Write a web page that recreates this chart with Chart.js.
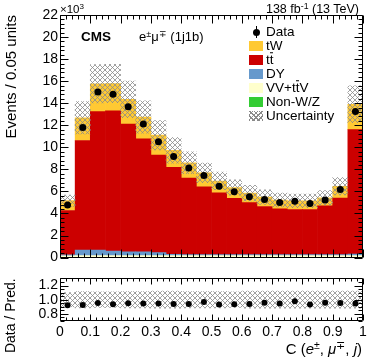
<!DOCTYPE html>
<html>
<head>
<meta charset="utf-8">
<script src="https://cdn.jsdelivr.net/npm/chart.js@4.4.0/dist/chart.umd.min.js"></script>
<style>
  html, body { margin: 0; padding: 0; background: #fff; }
  #wrap { position: relative; width: 374px; height: 359px; overflow: hidden; font-family: "Liberation Sans", Arial, sans-serif; color: #000; }
  canvas { position: absolute; left: 0; }
  .lbl { position: absolute; line-height: 1; white-space: nowrap; transform: translateY(-50%); }
  .sw { position: absolute; left: 249px; width: 14px; height: 10px; }
  .leg { position: absolute; left: 266px; line-height: 1; white-space: nowrap; transform: translateY(-50%); font-size: 13.5px; }
  sup { font-size: 70%; vertical-align: 0; position: relative; top: -0.45em; }
  .ob { position: relative; }
  .ob::before { content: ''; position: absolute; left: 0.5px; right: 0.5px; top: 0.06em; border-top: 1px solid #000; }
  .hatch { background-color: #fff; background-image: repeating-linear-gradient(45deg, #8a8a8a 0 0.8px, transparent 0.8px 3.5px), repeating-linear-gradient(-45deg, #8a8a8a 0 0.8px, transparent 0.8px 3.5px); }
</style>
</head>
<body>
<div id="wrap">
  <canvas id="mainChart" width="374" height="268" style="top:0"></canvas>
  <canvas id="ratioChart" width="374" height="91" style="top:268px"></canvas>

  <div class="lbl" style="left:60px; top:10px; font-size:11.5px">×10<sup>3</sup></div>
  <div class="lbl" style="right:15px; top:8.5px; font-size:12.5px">138 fb<sup>-1</sup> (13 TeV)</div>
  <div class="lbl" style="left:81px; top:37px; font-size:13.5px; font-weight:bold">CMS</div>
  <div class="lbl" style="left:139px; top:37px; font-size:13px">e<sup>±</sup>μ<sup>∓</sup> (1j1b)</div>

  <div style="position:absolute; left:256px; top:26px; width:1px; height:12px; background:#000"></div>
  <div style="position:absolute; left:253px; top:28.5px; width:7px; height:7px; border-radius:50%; background:#000"></div>
  <div class="leg" style="top:31.5px">Data</div>
  <div class="sw" style="top:40.5px; background:#ffc933"></div>
  <div class="leg" style="top:45.5px">tW</div>
  <div class="sw" style="top:54.5px; background:#cc0000"></div>
  <div class="leg" style="top:59.5px">t<span class="ob">t</span></div>
  <div class="sw" style="top:68.5px; background:#6699cc"></div>
  <div class="leg" style="top:73.5px">DY</div>
  <div class="sw" style="top:82.5px; background:#ffffcc"></div>
  <div class="leg" style="top:87.5px">VV+t<span class="ob">t</span>V</div>
  <div class="sw" style="top:96.5px; background:#33cc33"></div>
  <div class="leg" style="top:101.5px">Non-W/Z</div>
  <div class="sw hatch" style="top:110.5px"></div>
  <div class="leg" style="top:115.5px">Uncertainty</div>

  <div class="lbl" style="right:12px; top:348px; font-size:15px">C (<i>e</i><sup>±</sup>, <i>μ</i><sup>∓</sup>, <i>j</i>)</div>
</div>
<script>
// bin centres of C (e, mu, j), width 0.05
const binCenters = [0.025, 0.075, 0.125, 0.175, 0.225, 0.275, 0.325, 0.375, 0.425, 0.475,
                    0.525, 0.575, 0.625, 0.675, 0.725, 0.775, 0.825, 0.875, 0.925, 0.975];
// stacked predictions, in units of 10^3 events
const nonWZ = [0.03, 0.03, 0.03, 0.03, 0.03, 0.03, 0.03, 0.03, 0.03, 0.03,
               0.03, 0.03, 0.03, 0.03, 0.03, 0.03, 0.03, 0.03, 0.03, 0.03];
const vvttv = [0.13, 0.15, 0.15, 0.15, 0.15, 0.15, 0.15, 0.15, 0.15, 0.15,
               0.15, 0.15, 0.15, 0.15, 0.15, 0.15, 0.15, 0.15, 0.15, 0.15];
const dy = [0.08, 0.51, 0.51, 0.42, 0.35, 0.35, 0.27, 0.12, 0.09, 0.09,
            0.09, 0.09, 0.09, 0.09, 0.09, 0.09, 0.09, 0.09, 0.09, 0.15];
const ttbar = [4.03, 9.93, 12.55, 12.70, 11.58, 10.24, 8.84, 7.89, 6.94, 6.14,
               5.61, 5.10, 4.72, 4.36, 4.15, 4.09, 4.09, 4.43, 5.13, 11.27];
const tw = [0.89, 2.06, 2.52, 2.49, 2.24, 1.98, 1.81, 1.53, 1.39, 1.27,
            1.07, 0.98, 0.86, 0.85, 0.80, 0.79, 0.79, 0.72, 1.07, 2.30];
const dataVals = [4.78, 11.80, 15.02, 14.81, 13.69, 12.11, 10.51, 9.17, 8.13, 7.45,
                  6.47, 5.97, 5.52, 5.28, 5.00, 5.10, 4.90, 5.23, 6.17, 13.24];
// relative total uncertainty on the prediction
const relUnc = [0.10, 0.115, 0.11, 0.11, 0.115, 0.115, 0.12, 0.12, 0.115, 0.115,
                0.115, 0.11, 0.12, 0.12, 0.12, 0.12, 0.12, 0.12, 0.12, 0.12];
const ratioVals = [0.923, 0.927, 0.953, 0.936, 0.949, 0.945, 0.945, 0.940, 0.940, 0.966,
                   0.932, 0.936, 0.940, 0.957, 0.945, 0.979, 0.932, 0.957, 0.953, 0.945];
const ratioTicks = [0.8, 1.0, 1.2];

const FONT = "'Liberation Sans', Arial, sans-serif";
Chart.defaults.font.family = FONT;
Chart.defaults.color = '#000';

function makeHatch() {
  const c = document.createElement('canvas');
  c.width = 5; c.height = 5;
  const g = c.getContext('2d');
  g.strokeStyle = '#8a8a8a';
  g.lineWidth = 0.8;
  g.beginPath();
  g.moveTo(0, 0); g.lineTo(5, 5);
  g.moveTo(5, 0); g.lineTo(0, 5);
  g.stroke();
  return g.createPattern(c, 'repeat');
}
const hatch = makeHatch();

function eachTick(min, max, minor, major, fn) {
  const n = Math.round((max - min) / minor);
  for (let i = 0; i <= n; i++) {
    const v = min + i * minor;
    const q = v / major;
    fn(v, Math.abs(q - Math.round(q)) < 1e-6);
  }
}

// ROOT style frame: ticks pointing inwards on all four sides
const rootFrame = {
  id: 'rootFrame',
  afterDraw(chart, args, o) {
    const { ctx, chartArea: a } = chart;
    const xs = chart.scales.x, ys = chart.scales.y;
    const L = Math.round(a.left) + 0.5, R = Math.round(a.right) - 0.5;
    const T = Math.round(a.top) + 0.5, B = Math.round(a.bottom) - 0.5;
    ctx.save();
    ctx.strokeStyle = '#000';
    ctx.lineWidth = 1;
    ctx.beginPath();
    eachTick(xs.min, xs.max, o.xMinor, o.xMajor, (v, major) => {
      const px = Math.round(xs.getPixelForValue(v)) + 0.5;
      const len = major ? o.xLen[0] : o.xLen[1];
      ctx.moveTo(px, B); ctx.lineTo(px, B - len);
      ctx.moveTo(px, T); ctx.lineTo(px, T + len);
    });
    eachTick(ys.min, ys.max, o.yMinor, o.yMajor, (v, major) => {
      const py = Math.round(ys.getPixelForValue(v)) + 0.5;
      const len = major ? o.yLen[0] : o.yLen[1];
      ctx.moveTo(L, py); ctx.lineTo(L + len, py);
      ctx.moveTo(R, py); ctx.lineTo(R - len, py);
    });
    ctx.rect(L, T, R - L, B - T);
    ctx.stroke();
    ctx.restore();
  }
};

function histBars(label, values, color) {
  return {
    type: 'bar',
    label: label,
    data: binCenters.map((x, i) => ({ x: x, y: values[i] })),
    backgroundColor: color,
    borderWidth: 0,
    grouped: false,
    barPercentage: 1,
    categoryPercentage: 1,
    stack: 'mc',
    order: 2
  };
}

const totals = binCenters.map((_, i) => nonWZ[i] + vvttv[i] + dy[i] + ttbar[i] + tw[i]);

new Chart(document.getElementById('mainChart'), {
  type: 'bar',
  data: {
    datasets: [
      histBars('Non-W/Z', nonWZ, '#33cc33'),
      histBars('VV+ttV', vvttv, '#ffffcc'),
      histBars('DY', dy, '#6699cc'),
      histBars('tt', ttbar, '#cc0000'),
      histBars('tW', tw, '#ffc933'),
      {
        type: 'bar',
        label: 'Uncertainty',
        data: binCenters.map((x, i) => ({ x: x, y: [totals[i] * (1 - relUnc[i]), totals[i] * (1 + relUnc[i])] })),
        backgroundColor: hatch,
        borderWidth: 0,
        grouped: false,
        barPercentage: 1,
        categoryPercentage: 1,
        stack: 'unc',
        order: 1
      },
      {
        type: 'line',
        label: 'Data',
        data: binCenters.map((x, i) => ({ x: x, y: dataVals[i] })),
        showLine: false,
        pointRadius: 3.5,
        pointBackgroundColor: '#000',
        pointBorderWidth: 0,
        stack: 'data',
        order: 0
      }
    ]
  },
  options: {
    responsive: false,
    animation: false,
    layout: { padding: { top: 15, right: 11, bottom: 6, left: 0 } },
    plugins: {
      legend: { display: false },
      tooltip: { enabled: false },
      rootFrame: { xMajor: 0.1, xMinor: 0.02, yMajor: 2, yMinor: 0.4, xLen: [8, 4], yLen: [8, 4] }
    },
    scales: {
      x: { type: 'linear', min: 0, max: 1, offset: false, display: false, ticks: { stepSize: 0.1 } },
      y: {
        type: 'linear',
        min: 0,
        max: 22,
        stacked: true,
        afterFit(scale) { scale.width = 60; },
        grid: { display: false, drawTicks: false },
        border: { display: false },
        ticks: { stepSize: 2, padding: 2, color: '#000', font: { size: 14 } },
        title: { display: true, text: 'Events / 0.05 units', align: 'end', color: '#000', font: { size: 15 }, padding: { top: 3, bottom: 0 } }
      }
    }
  },
  plugins: [rootFrame]
});

new Chart(document.getElementById('ratioChart'), {
  type: 'bar',
  data: {
    datasets: [
      {
        type: 'bar',
        label: 'Uncertainty',
        data: binCenters.map((x, i) => ({ x: x, y: [1 - relUnc[i], 1 + relUnc[i]] })),
        backgroundColor: hatch,
        borderWidth: 0,
        grouped: false,
        barPercentage: 1,
        categoryPercentage: 1,
        order: 1
      },
      {
        type: 'line',
        label: 'Data / Pred.',
        data: binCenters.map((x, i) => ({ x: x, y: ratioVals[i] })),
        showLine: false,
        pointRadius: 3,
        pointBackgroundColor: '#000',
        pointBorderWidth: 0,
        order: 0
      }
    ]
  },
  options: {
    responsive: false,
    animation: false,
    layout: { padding: { top: 6, right: 11, bottom: 0, left: 0 } },
    plugins: {
      legend: { display: false },
      tooltip: { enabled: false },
      rootFrame: { xMajor: 0.1, xMinor: 0.02, yMajor: 0.2, yMinor: 0.05, xLen: [6, 3], yLen: [8, 4] }
    },
    scales: {
      x: {
        type: 'linear',
        min: 0,
        max: 1,
        offset: false,
        afterFit(scale) { scale.height = 38; },
        grid: { display: false, drawTicks: false },
        border: { display: false },
        ticks: {
          stepSize: 0.1,
          padding: 3,
          maxRotation: 0,
          autoSkip: false,
          color: '#000',
          font: { size: 14 },
          callback: v => String(+v.toFixed(1))
        }
      },
      y: {
        type: 'linear',
        min: 0.7,
        max: 1.3,
        afterFit(scale) { scale.width = 60; },
        afterBuildTicks(scale) { scale.ticks = ratioTicks.map(v => ({ value: v })); },
        grid: { display: false, drawTicks: false },
        border: { display: false },
        ticks: { padding: 2, color: '#000', font: { size: 14 }, callback: v => v.toFixed(1) },
        title: { display: true, text: 'Data / Pred.', align: 'end', color: '#000', font: { size: 14 }, padding: { top: 3, bottom: 0 } }
      }
    }
  },
  plugins: [rootFrame]
});
</script>
</body>
</html>
